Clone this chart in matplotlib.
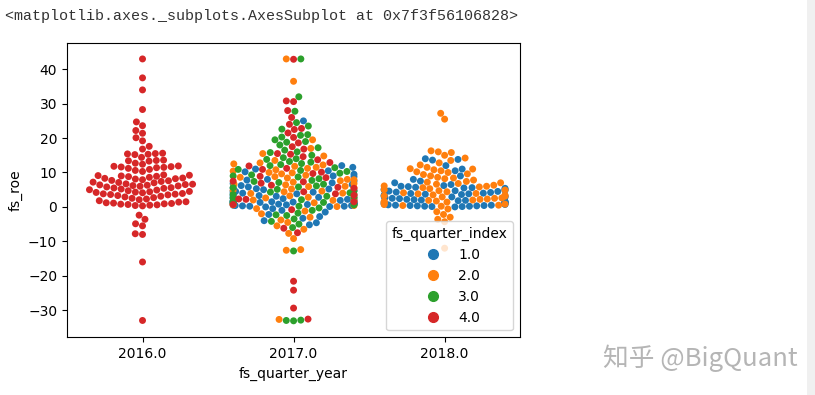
import matplotlib as mpl
mpl.use('Agg')
import matplotlib.pyplot as plt
import matplotlib.lines as mlines
import matplotlib.patches as mpatches
import pandas as pd
import seaborn as sns

# fs_roe values, by year and quarter
roe_2016_q4 = [43.0, 37.5, 34.0, 28.3, 24.7, 23.6, 22.2, 21.4, 20.1, 19.2, 17.6, 16.8,
               15.4, 15.5, 15.3, 15.6, 15.2, 14.4, 13.6, 13.4, 13.5, 13.3, 12.7, 12.4,
               11.7, 11.6, 11.8, 11.5, 11.9, 11.4, 11.2, 10.9, 10.6, 10.3,
               9.1, 9.0, 8.9, 9.2, 8.8, 9.3, 8.6, 8.4, 8.2, 8.1, 8.3, 7.9, 7.7, 7.6,
               7.4, 7.2, 7.0, 7.1, 6.6, 6.4, 6.5, 6.3, 6.2, 6.7, 6.1, 6.0, 5.8, 5.6,
               5.4, 5.2, 5.0, 5.5, 4.9, 4.7, 4.4, 4.3, 4.2, 4.5, 4.1, 3.9, 3.8, 3.7,
               3.6, 3.5, 3.3, 3.1, 2.9, 2.7, 2.5, 2.3, 2.1, 1.8, 1.5, 1.4, 1.2, 1.1,
               1.0, 0.9, 0.8, 0.7, 0.6, 0.5, 0.4, 0.3,
               -2.4, -3.6, -4.9, -5.5, -7.8, -8.0, -16.0, -33.0]

roe_2017_q1 = [25.0, 12.0, 11.5, 10.2, 9.5, 8.8, 8.0, 7.5, 7.0, 6.5, 6.2, 5.8, 5.5,
               5.2, 5.0, 4.8, 4.5, 4.3, 4.0, 3.8, 3.5, 3.3, 3.0, 2.8, 2.6, 2.4, 2.2,
               2.0, 1.9, 1.8, 1.6, 1.5, 1.4, 1.3, 1.2, 1.1, 1.0, 0.9, 0.8, 0.7, 0.6,
               0.5, 0.4, 0.3, 0.2, 0.1, 1.7, 2.5, 3.1, 3.6, 4.1, 4.6, 5.3,
               -0.5, -1.0, -1.5, -2.2, -2.8, -3.3, -4.0, -4.6, -5.2,
               0.0, 0.2, 0.4, 0.6, 0.8, 1.0, 1.2, 1.4, 6.8, 7.8, 9.0, 10.5, 11.0]
roe_2017_q2 = [43.0, 36.5, 19.5, 17.0, 15.5, 14.8, 13.5, 12.8, 12.2, 11.8, 11.2, 10.8,
               10.4, 10.0, 9.6, 9.2, 8.8, 8.4, 8.0, 7.6, 7.2, 6.8, 6.4, 6.0, 5.6,
               5.2, 4.8, 4.4, 4.0, 3.6, 3.2, 2.8, 2.4, 2.0, 1.6, 1.2, 0.8, 0.4, 0.1,
               12.5, 11.5, 9.9, 8.6, 7.9, 6.6, 5.9, 4.6, 3.9, 2.6, 1.9, 0.6,
               -0.5, -1.2, -2.0, -3.0, -3.8, -4.5, -5.5, -6.5, -7.7, -9.2,
               -12.6, -12.4, -32.7]
roe_2017_q3 = [43.0, 32.0, 27.8, 24.5, 23.5, 22.6, 21.0, 20.8, 20.3, 19.5, 19.0, 18.8,
               18.0, 17.2, 16.5, 16.0, 15.8, 15.0, 14.3, 14.0, 13.8, 13.2, 13.0,
               12.6, 12.3, 12.0, 11.4, 10.9, 10.6, 10.3, 9.8, 9.3, 9.0, 8.7, 8.2,
               7.7, 7.4, 7.1, 6.6, 6.1, 5.8, 5.6, 5.1, 4.6, 4.3, 4.1, 3.6, 3.1, 2.9,
               2.6, 2.1, 1.6, 1.3, 1.1, 0.6, 0.2,
               -0.3, -1.0, -1.8, -2.3, -2.5, -3.5, -4.2, -5.0, -6.0, -12.8,
               -32.9, -33.0, -33.1]
roe_2017_q4 = [42.9, 30.8, 30.6, 28.0, 26.0, 24.0, 22.8, 22.5, 21.5, 20.2, 18.6,
               17.5, 16.8, 15.5, 15.3, 14.6, 13.7, 12.9, 11.9, 11.2, 10.9, 10.1,
               9.7, 8.9, 8.5, 7.5, 7.3, 6.9, 6.3, 5.7, 5.4, 4.4, 3.8, 3.4, 2.3, 2.2,
               1.5, 0.7, -0.8, -6.2, -7.5, -21.6, -24.2, -29.4, -32.6]

roe_2018_q1 = [14.0, 13.8, 13.6, 12.0, 11.0, 10.5, 9.0, 8.0, 7.5, 7.0, 6.5, 6.2,
               6.0, 5.9, 5.7, 5.6, 5.5, 5.4, 5.2, 5.1, 4.9, 4.8, 4.7, 4.6, 4.5,
               4.3, 4.2, 4.0, 3.9, 3.8, 3.7, 3.6, 3.4, 3.3, 3.2, 3.0, 2.9, 2.8,
               2.7, 2.5, 2.4, 2.2, 2.1, 2.0, 1.9, 1.8, 1.6, 1.5, 1.4, 1.3, 1.2,
               1.1, 1.0, 0.9, 0.8, 0.7, 0.6, 0.5, 0.5, 0.4, 0.4, 0.3, 0.3, 0.2,
               0.2, 0.1, 0.1, 0.0]
roe_2018_q2 = [27.2, 25.5, 16.3, 16.0, 15.8, 15.0, 14.2, 13.5, 12.8, 12.2, 11.5,
               11.1, 11.0, 10.8, 10.5, 10.2, 10.0, 9.6, 9.4, 9.0, 8.6, 8.4, 8.2,
               7.8, 7.4, 7.2, 7.0, 6.8, 6.6, 6.3, 6.1, 6.0, 5.8, 5.6, 5.3, 5.0,
               4.9, 4.7, 4.4, 4.1, 3.9, 3.8, 3.5, 3.4, 3.2, 3.1, 2.9, 2.6, 2.5,
               2.3, 2.2, 2.0, 1.9, 1.7, 1.6, 1.4, 1.3, 1.1, 0.8, 0.7, 0.5, 0.4, 0.2,
               -0.6, -1.4, -2.2, -3.0, -3.6, -4.3, -12.0]

years = ['2016.0', '2017.0', '2018.0']
quarters = ['1.0', '2.0', '3.0', '4.0']
colors = ['#1f77b4', '#ff7f0e', '#2ca02c', '#d62728']

groups = [('2016.0', '4.0', roe_2016_q4),
          ('2017.0', '1.0', roe_2017_q1), ('2017.0', '2.0', roe_2017_q2),
          ('2017.0', '3.0', roe_2017_q3), ('2017.0', '4.0', roe_2017_q4),
          ('2018.0', '1.0', roe_2018_q1), ('2018.0', '2.0', roe_2018_q2)]

rows = []
for yr, q, vals in groups:
    for v in vals:
        rows.append((yr, q, v))
df = pd.DataFrame(rows, columns=['fs_quarter_year', 'fs_quarter_index', 'fs_roe'])


fig = plt.figure(figsize=(8.15, 3.95), dpi=100)
ax = fig.add_axes([0.0822, 0.146, 0.556, 0.744])

sns.swarmplot(data=df, x='fs_quarter_year', y='fs_roe', hue='fs_quarter_index',
              order=years, hue_order=quarters, palette=colors, size=5, ax=ax)

ax.set_ylim(-37.9, 47.5)
ax.set_xlim(-0.5, 2.5)
ax.set_xlabel('fs_quarter_year', fontsize=10)
ax.set_ylabel('fs_roe', fontsize=10)

# legend with bigger round markers
if ax.get_legend() is not None:
    ax.get_legend().remove()
handles = []
for q, c in zip(quarters, colors):
    handles.append(mlines.Line2D([], [], color=c, marker='o', ls='', markersize=7, label=q))
ax.legend(handles=handles, title='fs_quarter_index', loc='lower right', fontsize=10)

# notebook output line and watermark
fig.text(5 / 815, 1 - 16 / 395, '<matplotlib.axes._subplots.AxesSubplot at 0x7f3f56106828>',
         family='Liberation Mono', fontsize=10.8, color='#333333', va='center')
fig.text(603 / 815, 1 - 358 / 395, '知乎 @BigQuant', family=['Noto Sans CJK SC', 'DejaVu Sans'],
         fontsize=18.5, color='#b5b5b5', va='center')

# scrollbar strip on the right
fig.patches.append(mpatches.Rectangle((807 / 815, 0), 8 / 815, 1, transform=fig.transFigure,
                                      facecolor='#f0f0f0', edgecolor='none'))

fig.savefig('out.png', dpi=100)
